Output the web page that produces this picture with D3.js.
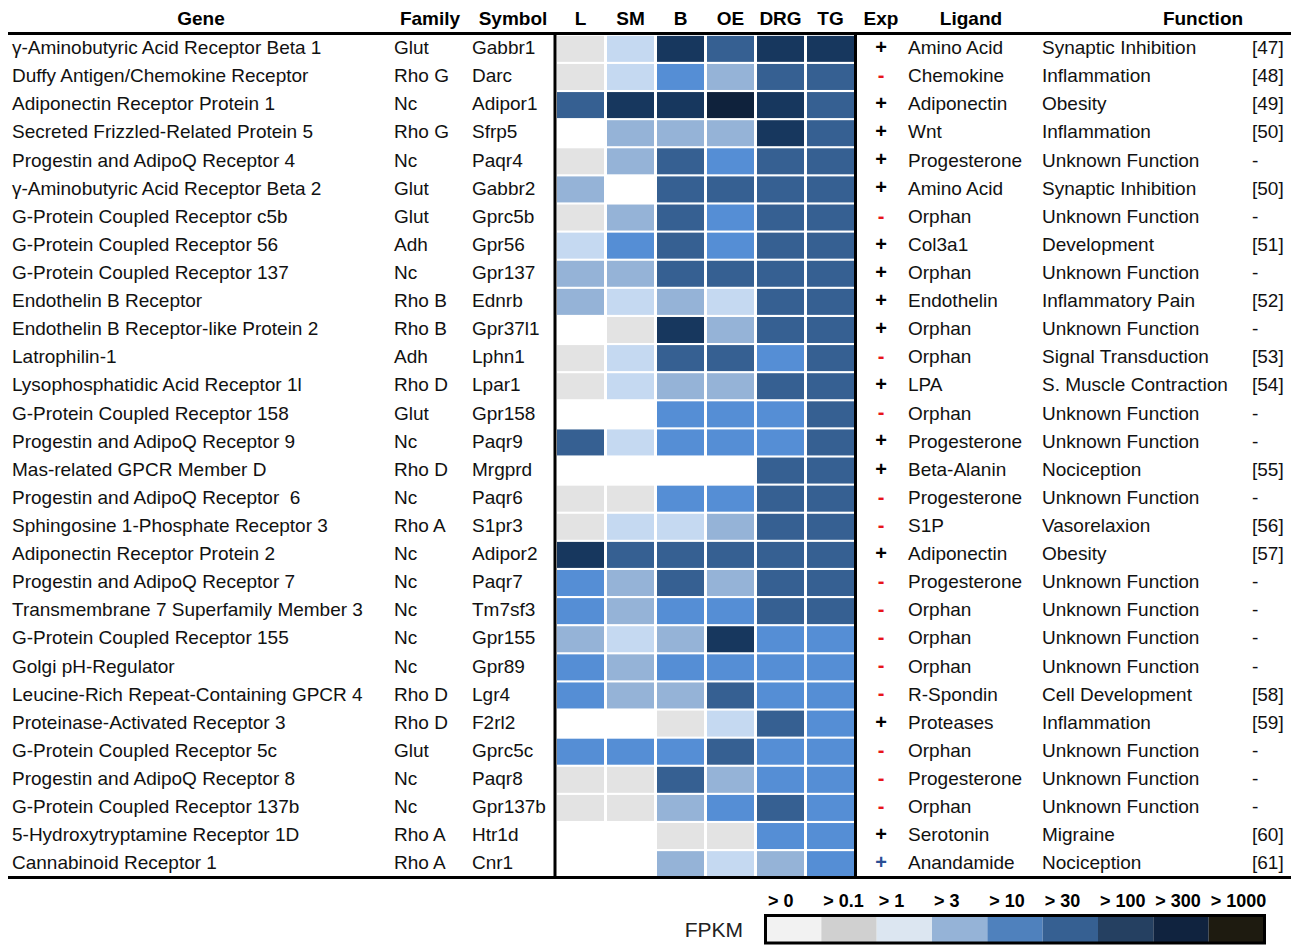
<!DOCTYPE html>
<html>
<head>
<meta charset="utf-8">
<script src="https://cdn.jsdelivr.net/npm/d3@7"></script>
<style>
  body { margin: 0; background: #fff; }
  svg { display: block; font-family: 'Liberation Sans', Arial, sans-serif; }
  .hdr { font-weight: bold; font-size: 19px; fill: #000; }
  .cell-text { font-size: 19px; fill: #111; }
  .lg-label { font-weight: bold; font-size: 18px; }
</style>
</head>
<body>
<div id="app"></div>
<script>
// table data
const genes = [
  'γ-Aminobutyric Acid Receptor Beta 1', 'Duffy Antigen/Chemokine Receptor', 'Adiponectin Receptor Protein 1',
  'Secreted Frizzled-Related Protein 5', 'Progestin and AdipoQ Receptor 4', 'γ-Aminobutyric Acid Receptor Beta 2',
  'G-Protein Coupled Receptor c5b', 'G-Protein Coupled Receptor 56', 'G-Protein Coupled Receptor 137',
  'Endothelin B Receptor', 'Endothelin B Receptor-like Protein 2', 'Latrophilin-1',
  'Lysophosphatidic Acid Receptor 1l', 'G-Protein Coupled Receptor 158', 'Progestin and AdipoQ Receptor 9',
  'Mas-related GPCR Member D', 'Progestin and AdipoQ Receptor  6', 'Sphingosine 1-Phosphate Receptor 3',
  'Adiponectin Receptor Protein 2', 'Progestin and AdipoQ Receptor 7', 'Transmembrane 7 Superfamily Member 3',
  'G-Protein Coupled Receptor 155', 'Golgi pH-Regulator', 'Leucine-Rich Repeat-Containing GPCR 4',
  'Proteinase-Activated Receptor 3', 'G-Protein Coupled Receptor 5c', 'Progestin and AdipoQ Receptor 8',
  'G-Protein Coupled Receptor 137b', '5-Hydroxytryptamine Receptor 1D', 'Cannabinoid Receptor 1'
];
const families = [
  'Glut', 'Rho G', 'Nc', 'Rho G', 'Nc', 'Glut', 'Glut', 'Adh', 'Nc', 'Rho B',
  'Rho B', 'Adh', 'Rho D', 'Glut', 'Nc', 'Rho D', 'Nc', 'Rho A', 'Nc', 'Nc',
  'Nc', 'Nc', 'Nc', 'Rho D', 'Rho D', 'Glut', 'Nc', 'Nc', 'Rho A', 'Rho A'
];
const symbols = [
  'Gabbr1', 'Darc', 'Adipor1', 'Sfrp5', 'Paqr4', 'Gabbr2', 'Gprc5b', 'Gpr56', 'Gpr137', 'Ednrb',
  'Gpr37l1', 'Lphn1', 'Lpar1', 'Gpr158', 'Paqr9', 'Mrgprd', 'Paqr6', 'S1pr3', 'Adipor2', 'Paqr7',
  'Tm7sf3', 'Gpr155', 'Gpr89', 'Lgr4', 'F2rl2', 'Gprc5c', 'Paqr8', 'Gpr137b', 'Htr1d', 'Cnr1'
];
const tissues = ['L', 'SM', 'B', 'OE', 'DRG', 'TG'];
// expression level per tissue (0 = none ... 7 = highest), one row per gene
const levels = [
  [1, 2, 6, 5, 6, 6], [1, 2, 4, 3, 5, 5], [5, 6, 6, 7, 6, 5], [0, 3, 3, 3, 6, 5], [1, 3, 5, 4, 5, 5],
  [3, 0, 5, 5, 5, 5], [1, 3, 5, 4, 5, 5], [2, 4, 5, 4, 5, 5], [3, 3, 5, 5, 5, 5], [3, 2, 3, 2, 5, 5],
  [0, 1, 6, 3, 5, 5], [1, 2, 5, 5, 4, 5], [1, 2, 3, 3, 5, 5], [0, 0, 4, 4, 4, 5], [5, 2, 4, 4, 4, 5],
  [0, 0, 0, 0, 5, 5], [1, 1, 4, 4, 5, 5], [1, 2, 2, 3, 5, 5], [6, 5, 5, 5, 5, 5], [4, 3, 5, 3, 5, 5],
  [4, 3, 4, 4, 5, 5], [3, 2, 3, 6, 4, 4], [4, 3, 4, 4, 4, 4], [4, 3, 3, 5, 4, 4], [0, 0, 1, 2, 5, 4],
  [4, 4, 4, 5, 4, 4], [1, 1, 5, 3, 4, 4], [1, 1, 3, 4, 5, 4], [0, 0, 1, 1, 4, 4], [0, 0, 3, 2, 3, 4]
];
const levelColors = ['#ffffff', '#e3e3e3', '#c5d9f1', '#95b3d7', '#558ed5', '#366092', '#17375e', '#0f223c'];
const exps = [
  '+', '-', '+', '+', '+', '+', '-', '+', '+', '+', '+', '-', '+', '-', '+',
  '+', '-', '-', '+', '-', '-', '-', '-', '-', '+', '-', '-', '-', '+', '+b'
];
const ligands = [
  'Amino Acid', 'Chemokine', 'Adiponectin', 'Wnt', 'Progesterone', 'Amino Acid', 'Orphan', 'Col3a1',
  'Orphan', 'Endothelin', 'Orphan', 'Orphan', 'LPA', 'Orphan', 'Progesterone', 'Beta-Alanin',
  'Progesterone', 'S1P', 'Adiponectin', 'Progesterone', 'Orphan', 'Orphan', 'Orphan', 'R-Spondin',
  'Proteases', 'Orphan', 'Progesterone', 'Orphan', 'Serotonin', 'Anandamide'
];
const functions = [
  'Synaptic Inhibition', 'Inflammation', 'Obesity', 'Inflammation', 'Unknown Function',
  'Synaptic Inhibition', 'Unknown Function', 'Development', 'Unknown Function', 'Inflammatory Pain',
  'Unknown Function', 'Signal Transduction', 'S. Muscle Contraction', 'Unknown Function',
  'Unknown Function', 'Nociception', 'Unknown Function', 'Vasorelaxion', 'Obesity', 'Unknown Function',
  'Unknown Function', 'Unknown Function', 'Unknown Function', 'Cell Development', 'Inflammation',
  'Unknown Function', 'Unknown Function', 'Unknown Function', 'Migraine', 'Nociception'
];
const refs = [
  '[47]', '[48]', '[49]', '[50]', '-', '[50]', '-', '[51]', '-', '[52]', '-', '[53]', '[54]', '-', '-',
  '[55]', '-', '[56]', '[57]', '-', '-', '-', '-', '[58]', '[59]', '-', '-', '-', '[60]', '[61]'
];
// legend
const legendLabels = ['> 0', '> 0.1', '> 1', '> 3', '> 10', '> 30', '> 100', '> 300', '> 1000'];
const legendColors = ['#f2f2f2', '#d0d0d0', '#dce6f1', '#95b3d7', '#4f81bd', '#366092', '#254061', '#10233f', '#1e1b10'];

const W = 1291, H = 945;
const svg = d3.select('#app').append('svg').attr('width', W).attr('height', H);
svg.append('rect').attr('width', W).attr('height', H).attr('fill', '#fff');

// scales
const rows = d3.range(genes.length);
const y = d3.scaleBand().domain(rows).range([35, 878]).paddingInner(0.075).paddingOuter(0.03);
const x = d3.scaleBand().domain(tissues).range([556, 855]).paddingInner(0.06).paddingOuter(0.02);
const color = d3.scaleOrdinal().domain(d3.range(levelColors.length)).range(levelColors);
const rowMid = (i) => y(i) + y.bandwidth() / 2;

// heatmap
const cells = [];
levels.forEach((r, i) => r.forEach((v, j) => cells.push({ row: i, tissue: tissues[j], v })));
svg.append('g').selectAll('rect').data(cells).join('rect')
  .attr('x', (d) => x(d.tissue))
  .attr('y', (d) => y(d.row))
  .attr('width', x.bandwidth())
  .attr('height', y.bandwidth())
  .attr('fill', (d) => color(d.v));

// text columns
const textCols = [
  { values: genes, x: 12 },
  { values: families, x: 394 },
  { values: symbols, x: 472 },
  { values: ligands, x: 908 },
  { values: functions, x: 1042 },
  { values: refs, x: 1252 },
];
textCols.forEach((c) => {
  svg.append('g').selectAll('text').data(c.values).join('text')
    .attr('class', 'cell-text')
    .attr('x', c.x)
    .attr('y', (_, i) => rowMid(i) + 5.2)
    .attr('xml:space', 'preserve')
    .text((d) => d);
});

// expression sign
svg.append('g').selectAll('text').data(exps).join('text')
  .attr('x', 881)
  .attr('y', (_, i) => rowMid(i) + 5)
  .attr('text-anchor', 'middle')
  .attr('font-weight', 'bold')
  .attr('font-size', 20)
  .attr('fill', (d) => (d === '-' ? '#e8141b' : d === '+b' ? '#2a4f95' : '#000'))
  .text((d) => d.charAt(0));

// headers
const headers = [
  { t: 'Gene', x: 201 }, { t: 'Family', x: 430 }, { t: 'Symbol', x: 513 },
  ...tissues.map((t) => ({ t, x: x(t) + x.bandwidth() / 2 })),
  { t: 'Exp', x: 881 }, { t: 'Ligand', x: 971 }, { t: 'Function', x: 1203 },
];
svg.append('g').selectAll('text').data(headers).join('text')
  .attr('class', 'hdr')
  .attr('x', (d) => d.x)
  .attr('y', 25)
  .attr('text-anchor', 'middle')
  .text((d) => d.t);

// rules
const rule = (x1, y1, x2, y2) => svg.append('line')
  .attr('x1', x1).attr('y1', y1).attr('x2', x2).attr('y2', y2)
  .attr('stroke', '#000').attr('stroke-width', 3);
rule(8, 33.5, W, 33.5);
rule(8, 877.5, W, 877.5);
rule(555, 33.5, 555, 877.5);
rule(855.5, 33.5, 855.5, 877.5);

// legend
const lx = d3.scaleBand().domain(legendLabels).range([766, 1264]);
const legend = svg.append('g');
legend.selectAll('rect.sw').data(legendLabels).join('rect')
  .attr('class', 'sw')
  .attr('x', (d) => lx(d))
  .attr('y', 916.5)
  .attr('width', lx.bandwidth())
  .attr('height', 26)
  .attr('fill', (d, i) => legendColors[i]);
legend.append('rect')
  .attr('x', 765.5).attr('y', 915.5).attr('width', 499).attr('height', 27.5)
  .attr('fill', 'none').attr('stroke', '#000').attr('stroke-width', 3);
legend.selectAll('text.lg-label').data(legendLabels).join('text')
  .attr('class', 'lg-label')
  .attr('x', (d) => lx(d) + 2)
  .attr('y', 907)
  .text((d) => d);
legend.append('text')
  .attr('x', 743).attr('y', 937)
  .attr('text-anchor', 'end')
  .attr('font-size', 21)
  .attr('fill', '#222')
  .text('FPKM');
</script>
</body>
</html>
